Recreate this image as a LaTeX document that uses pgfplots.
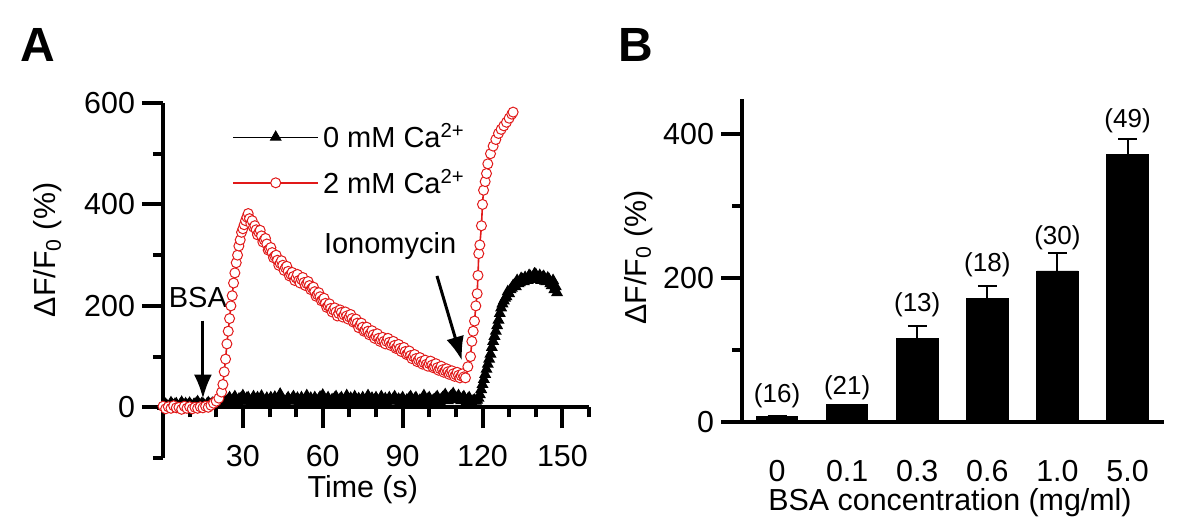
\documentclass[border=0pt]{standalone}
\usepackage{fontspec}
\setmainfont{Liberation Sans}
\usepackage{pgfplots}
\pgfplotsset{compat=1.18}
\usetikzlibrary{arrows.meta}
\definecolor{cred}{RGB}{225,25,25}
\newcommand\fs{\fontsize{15.2}{17.5}\selectfont}
\newcommand\fa{\fontsize{14.5}{17}\selectfont}
\pgfplotsset{
  panel/.style={
    scale only axis, clip=false,
    tick label style={font=\fs},
    /pgf/number format/assume math mode=true,
  },
  panelfix/.style={
    axis line style={-, line width=2pt},
    every inner x axis line/.append style={-},
    every outer x axis line/.append style={-},
    every inner y axis line/.append style={-},
    every outer y axis line/.append style={-},
    tick align=outside, major tick length=10.5pt, minor tick length=5pt,
    tick style={line width=2pt, black},
  }
}
\begin{document}
\begin{tikzpicture}[x=1pt,y=1pt]
\path (0,0) rectangle (600,262.5);
\node[font=\fontsize{24}{28}\selectfont\bfseries] at (19,240) {A};
\node[font=\fontsize{24}{28}\selectfont\bfseries] at (318,240) {B};

\begin{axis}[panel,
  at={(81.5pt,33.5pt)}, anchor=south west,
  width=213pt, height=177.5pt,
  xmin=0, xmax=160, ymin=-100, ymax=600,
  axis x line=middle, axis y line=left,
  panelfix,
  hide obscured x ticks=false, hide obscured y ticks=false,
  xtick={30,60,90,120,150},
  minor xtick={10,20,40,50,70,80,100,110,130,140,160},
  ytick={0,200,400,600}, minor ytick={-100,100,300,500},
  xticklabel style={yshift=-5pt},
  xlabel={Time (s)}, ylabel={ΔF/F\textsubscript{0} (\%)},
  every axis x label/.style={at={(axis description cs:0.469,-0.09)}, anchor=center, font=\fs},
  every axis y label/.style={at={(axis description cs:-0.27,0.586)}, anchor=center, rotate=90, font=\fs},
  legend style={at={(axis description cs:0.162,0.955)}, anchor=north west, draw=none, fill=none,
    font=\fa, row sep=5pt, inner sep=0pt},
  legend image code/.code={\draw[mark repeat=2,mark phase=2,#1] plot coordinates {(0pt,0pt) (21.25pt,0pt) (42.5pt,0pt)};},
]
\addplot[black, line width=0.5pt, mark=triangle*, mark size=3pt, mark options={solid}] coordinates {
(0,2)(0.5,5)(1,6)(1.5,3)(2,0)(2.5,4)(3,9)(3.5,5)(4,3)(4.5,6)(5,7)(5.5,2)(6,1)(6.5,6)(7,10)(7.5,5)(8,4)(8.5,7)(9,2)(9.5,5)
(10,8)(10.5,4)(11,1)(11.5,5)(12,6)(12.5,8)(13,11)(13.5,6)(14,4)(14.5,7)(15,7)(15.5,4)(16,2)(16.5,6)(17,9)(17.5,6)(18,5)(18.5,8)
(19,7)(19.5,9)(20,10)(20.5,8)
(21,8)(21.5,12)(22,14)(22.5,10)(23,18)(23.5,13)(24,9)(24.5,15)(25,19)(25.5,11)(26,12)(26.5,17)(27,21)(27.5,14)(28,10)(28.5,16)
(29,17)(29.5,12)(30,23)(30.5,15)(31,12)(31.5,18)(32,19)(32.5,13)(33,9)(33.5,16)(34,21)(34.5,14)(35,15)(35.5,19)(36,11)(36.5,14)
(37,22)(37.5,15)(38,9)(38.5,13)(39,18)(39.5,12)(40,14)(40.5,19)(41,8)(41.5,13)(42,20)(42.5,15)(43,11)(43.5,16)(44,26)(44.5,17)
(45,14)(45.5,12)(46,9)(46.5,15)(47,19)(47.5,13)(48,12)(48.5,17)(49,21)(49.5,14)(50,14)(50.5,18)(51,9)(51.5,13)(52,19)(52.5,14)
(53,11)(53.5,16)(54,23)(54.5,15)(55,13)(55.5,18)(56,8)(56.5,12)(57,19)(57.5,14)(58,11)(58.5,16)(59,20)(59.5,15)(60,24)(60.5,16)
(61,11)(61.5,14)(62,19)(62.5,13)(63,9)(63.5,15)(64,15)(64.5,18)(65,21)(65.5,14)(66,11)(66.5,16)(67,19)(67.5,13)(68,9)(68.5,14)
(69,23)(69.5,16)(70,14)(70.5,18)(71,11)(71.5,15)(72,21)(72.5,14)(73,13)(73.5,17)(74,9)(74.5,14)(75,19)(75.5,13)(76,11)(76.5,16)
(77,23)(77.5,15)(78,13)(78.5,18)(79,9)(79.5,14)(80,19)(80.5,13)(81,11)(81.5,16)(82,21)(82.5,14)(83,13)(83.5,17)(84,9)(84.5,14)
(85,19)(85.5,13)(86,12)(86.5,17)(87,21)(87.5,14)(88,13)(88.5,16)(89,10)(89.5,15)(90,19)(90.5,13)(91,9)(91.5,14)(92,14)(92.5,18)
(93,21)(93.5,14)(94,11)(94.5,16)(95,19)(95.5,13)(96,9)(96.5,14)(97,14)(97.5,18)(98,23)(98.5,15)(99,11)(99.5,16)(100,19)(100.5,13)
(101,9)(101.5,14)(102,15)(102.5,18)(103,21)(103.5,15)(104,11)(104.5,16)(105,19)(105.5,21)(106,25)(106.5,17)(107,13)(107.5,18)
(108,21)(108.5,23)(109,27)(109.5,19)(110,15)(110.5,19)(111,23)(111.5,17)(112,13)(112.5,18)(113,21)(113.5,15)(114,11)(114.5,16)
(115,19)(115.5,13)(116,9)(116.5,13)(117,14)(117.5,12)
(118,14)(118.5,18)(119,25)(119.5,35)(120,45)(120.5,55)(121,65)(121.5,75)(122,85)(122.5,95)(123,105)(123.5,118)(124,130)(124.5,140)
(125,150)(125.5,161)(126,172)(126.5,185)(127,196)(127.5,204)(128,210)(128.5,215)(129,218)(129.5,228)(130,224)(130.5,232)(131,235)
(131.5,240)(132,242)(132.5,238)(133,250)(133.5,244)(134,246)(134.5,254)(135,252)(135.5,248)(136,256)(136.5,250)(137,250)(137.5,260)
(138,258)(138.5,252)(139,254)(139.5,263)(140,262)(140.5,254)(141,255)(141.5,260)(142,250)(142.5,256)(143,258)(143.5,249)(144,248)
(144.5,255)(145,252)(145.5,244)(146,240)(146.5,250)(147,232)(147.5,238)(148,226)
};
\addlegendentry{0 mM Ca\textsuperscript{2+}}
\addplot[cred, line width=0.8pt, mark=*, mark size=2.5pt, mark options={solid, fill=white, draw=cred, line width=0.5pt}] coordinates {
(0,2)(1,-3)(2,1)(3,-2)(4,3)(5,-1)(6,0)(7,-4)(8,2)(9,-2)(10,1)(11,-3)(12,0)(13,-2)(14,1)(15,-1)(16,2)(17,0)(18,4)(19,8)(20,12)(21,18)(22,30)
(22.5,45)(23,70)(23.5,95)(24,125)(24.5,150)(25,175)(25.5,200)(26,220)(26.5,245)(27,265)(27.5,285)(28,300)(28.5,318)(29,330)(29.5,345)
(30,352)(30.5,360)(31,368)(31.5,375)(32,382)(32.5,372)(33,362)(33.5,368)(34,355)(34.5,358)
(35,350)(35.5,340)(36,345)(36.5,349)(37,338)(37.5,326)(38,330)(38.5,333)(39,322)(39.5,310)(40,312)(40.5,315)(41,305)(41.5,295)
(42,298)(42.5,300)(43,290)(43.5,280)(44,284)(44.5,289)(45,280)(45.5,270)(46,275)(46.5,278)(47,268)(47.5,259)(48,262)(48.5,266)
(49,258)(49.5,250)(50,255)(50.5,262)(51,250)(51.5,245)(52,252)(52.5,256)(53,246)(53.5,240)(54,244)(54.5,248)(55,240)(55.5,232)
(56,235)(56.5,237)(57,228)(57.5,219)(58,222)(58.5,226)(59,218)(59.5,210)(60,212)(60.5,215)(61,205)(61.5,197)(62,200)(62.5,204)
(63,195)(63.5,188)(64,192)(64.5,196)(65,188)(65.5,180)(66,185)(66.5,192)(67,187)(67.5,178)(68,182)(68.5,188)(69,180)(69.5,174)
(70,178)(70.5,183)(71,175)(71.5,168)(72,170)(72.5,174)(73,166)(73.5,157)(74,162)(74.5,166)(75,158)(75.5,150)(76,152)(76.5,158)
(77,150)(77.5,143)(78,146)(78.5,151)(79,143)(79.5,136)(80,140)(80.5,145)(81,136)(81.5,130)(82,133)(82.5,138)(83,130)(83.5,125)
(84,130)(84.5,136)(85,128)(85.5,122)(86,125)(86.5,130)(87,122)(87.5,116)(88,118)(88.5,124)(89,116)(89.5,110)(90,114)(90.5,118)
(91,110)(91.5,104)(92,106)(92.5,111)(93,102)(93.5,96)(94,100)(94.5,104)(95,96)(95.5,90)(96,93)(96.5,98)(97,90)(97.5,85)(98,88)
(98.5,93)(99,85)(99.5,81)(100,86)(100.5,91)(101,83)(101.5,78)(102,80)(102.5,86)(103,78)(103.5,73)(104,76)(104.5,81)(105,74)
(105.5,69)(106,72)(106.5,76)(107,70)(107.5,65)(108,68)(108.5,72)(109,66)(109.5,61)(110,64)(110.5,69)(111,63)(111.5,58)(112,62)
(112.5,66)(113,60)(113.6,58)
(114.5,80)(115.5,100)(116,130)(116.5,150)(117,170)(117.5,200)(118,224)(118.3,260)(118.6,303)(119,320)(119.6,358)(120,400)(120.4,428)
(121,445)(121.5,461)(122,480)(123,500)(124,515)(125,528)(126,540)(127,548)(128,555)(129,562)(130,570)(131,578)(131.5,582)
};
\addlegendentry{2 mM Ca\textsuperscript{2+}}
\node[font=\fa] at (axis cs:13.1,216) {BSA};
\draw[line width=1.5pt, -{Latex[length=12pt,width=9pt]}] (axis cs:15,171) -- (axis cs:15,17);
\node[font=\fa] at (axis cs:85.3,318) {Ionomycin};
\draw[line width=1.5pt, -{Latex[length=12pt,width=9pt]}] (axis cs:102.9,259) -- (axis cs:112.3,92);
\end{axis}

\begin{axis}[panel,
  at={(371pt,51.5pt)}, anchor=south west,
  width=211pt, height=161.5pt,
  xmin=-0.5, xmax=5.52, ymin=0, ymax=449,
  axis x line=bottom, axis y line=left,
  panelfix,
  xtick={0,1,2,3,4,5}, xticklabels={0,0.1,0.3,0.6,1.0,5.0},
  xtick style={draw=none}, xticklabel style={yshift=-5pt},
  ytick={0,200,400}, minor ytick={100,300},
  ybar, bar width=20.7pt,
  xlabel={BSA concentration (mg/ml)}, ylabel={ΔF/F\textsubscript{0} (\%)},
  every axis x label/.style={at={(axis description cs:0.493,-0.25)}, anchor=center, font=\fs},
  every axis y label/.style={at={(axis description cs:-0.246,0.51)}, anchor=center, rotate=90, font=\fs},
]
\addplot[fill=black, draw=black,
  error bars/.cd, y dir=plus, y explicit,
  error bar style={line width=1pt, black},
  error mark options={rotate=90, mark size=4.75pt, line width=1pt, black}]
coordinates {(0,8) +- (0,0) (1,24) +- (0,0) (2,116) +- (0,17) (3,172) +- (0,17) (4,210) +- (0,25) (5,372) +- (0,22)};
\node[font=\fontsize{13}{15}\selectfont] at (axis cs:0,37) {(16)};
\node[font=\fontsize{13}{15}\selectfont] at (axis cs:1,47) {(21)};
\node[font=\fontsize{13}{15}\selectfont] at (axis cs:2,163) {(13)};
\node[font=\fontsize{13}{15}\selectfont] at (axis cs:3,219) {(18)};
\node[font=\fontsize{13}{15}\selectfont] at (axis cs:4,256) {(30)};
\node[font=\fontsize{13}{15}\selectfont] at (axis cs:5,419) {(49)};
\end{axis}
\end{tikzpicture}
\end{document}
